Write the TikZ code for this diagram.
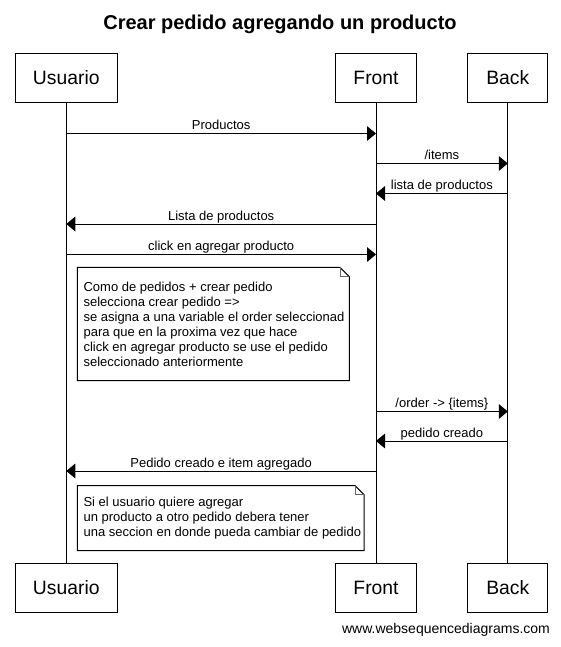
\documentclass[tikz,border=0pt]{standalone}
\usepackage{fontspec}
\setmainfont{Liberation Sans}
\usetikzlibrary{arrows.meta}
\begin{document}
\begin{tikzpicture}[x=0.75pt,y=-0.75pt,
  actor/.style={draw, line width=0.75pt, minimum height=36.75pt, inner sep=0pt,
    font=\fontsize{14.5}{17}\selectfont},
  lifeline/.style={line width=0.75pt},
  msg/.style={line width=0.75pt, -{Triangle[length=6.75pt,width=11pt]}},
  lbl/.style={anchor=base, yshift=3pt, inner sep=0pt, font=\fontsize{9.75}{11.25}\selectfont},
  notebox/.style={line width=0.75pt, fill=white},
  notefold/.style={line width=0.75pt, black!60},
  notetext/.style={anchor=north west, inner sep=0pt, align=left, font=\fontsize{9.75}{11.25}\selectfont}
]
\fill[white] (0,0) rectangle (561,647);
\useasboundingbox (0,0) rectangle (561,647);

% title
\node[anchor=base, inner sep=0pt, font=\fontsize{15}{18}\bfseries\selectfont] (title) at (280,29.5) {Crear pedido agregando un producto};

% actors
\node[actor, minimum width=76.5pt] (uT) at (66.3,77.8) {Usuario};
\node[actor, minimum width=60.4pt] (fT) at (376,77.8) {Front};
\node[actor, minimum width=59.8pt] (bT) at (507.8,77.8) {Back};
\node[actor, minimum width=76.5pt] (uB) at (66.3,587.5) {Usuario};
\node[actor, minimum width=60.4pt] (fB) at (376,587.5) {Front};
\node[actor, minimum width=59.8pt] (bB) at (507.8,587.5) {Back};

\draw[lifeline] (uT.south) -- (uB.north);
\draw[lifeline] (fT.south) -- (fB.north);
\draw[lifeline] (bT.south) -- (bB.north);

% message points
\foreach \n/\y in {1/133.5,2/163.5,3/193.5,4/224,5/254.5,6/411.5,7/441,8/471}{
  \coordinate (u\n) at (66.3,\y);
  \coordinate (f\n) at (376,\y);
  \coordinate (b\n) at (507.8,\y);
}

\draw[msg] (u1) -- node[lbl] {Productos} (f1);
\draw[msg] (f2) -- node[lbl] {/items} (b2);
\draw[msg] (b3) -- node[lbl] {lista de productos} (f3);
\draw[msg] (f4) -- node[lbl] {Lista de productos} (u4);
\draw[msg] (u5) -- node[lbl] {click en agregar producto} (f5);

% note 1
\draw[notebox] (77.3,267.3) -- (340,267.3) -- (349.3,276.6) -- (349.3,380.5) -- (77.3,380.5) -- cycle;
\draw[notefold] (340,267.3) -- (340,276.6) -- (349.3,276.6);
\node[notetext] (n1) at (83.3,282) {Como de pedidos + crear pedido\\selecciona crear pedido =>\\se asigna a una variable el order seleccionad\\para que en la proxima vez que hace\\click en agregar producto se use el pedido\\seleccionado anteriormente};

\draw[msg] (f6) -- node[lbl] {/order -> \{items\}} (b6);
\draw[msg] (b7) -- node[lbl] {pedido creado} (f7);
\draw[msg] (f8) -- node[lbl] {Pedido creado e item agregado} (u8);

% note 2
\draw[notebox] (77.3,485.7) -- (355,485.7) -- (364,494.7) -- (364,550.7) -- (77.3,550.7) -- cycle;
\draw[notefold] (355,485.7) -- (355,494.7) -- (364,494.7);
\node[notetext] (n2) at (83.3,497) {Si el usuario quiere agregar\\un producto a otro pedido debera tener\\una seccion en donde pueda cambiar de pedido};

% footer
\node[anchor=base, inner sep=0pt, font=\fontsize{10.5}{12}\selectfont] (footer) at (446,633.5) {www.websequencediagrams.com};
\end{tikzpicture}
\end{document}
